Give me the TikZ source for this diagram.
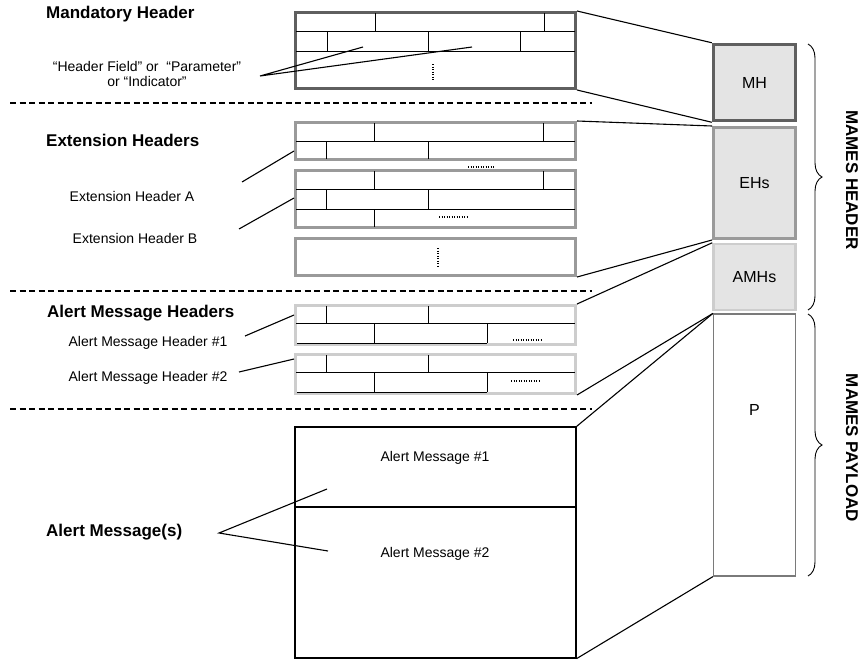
\documentclass[tikz,border=0pt]{standalone}
\usepackage{fontspec}
\setmainfont{Liberation Sans}
\usetikzlibrary{decorations.pathreplacing}
\definecolor{mhgray}{HTML}{5F5F5F}
\definecolor{ehgray}{HTML}{9A9A9A}
\definecolor{amgray}{HTML}{CDCDCD}
\definecolor{fillgray}{HTML}{E4E4E4}
\definecolor{pgray}{HTML}{7A7A7A}
\tikzset{every node/.append style={inner sep=0pt},
  lbl/.style={font=\fontsize{14}{14.5}\selectfont},
  ttl/.style={font=\bfseries\fontsize{17}{20}\selectfont,anchor=west},
  side/.style={font=\bfseries\fontsize{17}{20}\selectfont,rotate=-90},
  hbox/.style={draw=#1,line width=3pt,minimum width=280pt},
  rbox/.style={draw=#1,fill=fillgray,minimum width=82pt,font=\fontsize{16}{18}\selectfont},
  cell/.style={line width=1pt},
  dots/.style={line width=1.4pt,dash pattern=on 1.2pt off 1.3pt},
  sep/.style={line width=1.2pt,dash pattern=on 6pt off 3.5pt},
  link/.style={line width=1.1pt},
  brc/.style={decorate,decoration={brace,amplitude=14pt},line width=0.9pt}}

\begin{document}
\begin{tikzpicture}[x=1pt,y=-1pt]
  \useasboundingbox (0,0) rectangle (861,659);
  \node[hbox=mhgray,minimum height=76pt] (mhL) at (435.5,50.5) {};
  \node[hbox=ehgray,minimum height=37pt] (ehA) at (435.5,141) {};
  \node[hbox=ehgray,minimum height=57pt] (ehB) at (435.5,199) {};
  \node[hbox=ehgray,minimum height=37pt] (ehC) at (435.5,257) {};
  \node[hbox=amgray,minimum height=39pt] (amA) at (435.5,325) {};
  \node[hbox=amgray,minimum height=39pt] (amB) at (435.5,374) {};
  \node[draw,line width=1.2pt,minimum width=281pt,minimum height=231pt] (amsg) at (435.5,542.5) {};

  \draw[cell] (296,31)--(575,31) (296,51)--(575,51) (375,13)--(375,31) (544,13)--(544,31)
    (327,31)--(327,51) (428,31)--(428,51) (520,31)--(520,51);
  \draw[dots] (433,64)--(433,81);
  \draw[cell] (296,141)--(575,141) (374,123)--(374,141) (543,123)--(543,141)
    (326,141)--(326,159) (428,141)--(428,159);
  \draw[dots] (468,167)--(494,167);
  \draw[cell] (296,189)--(575,189) (296,209)--(575,209) (374,171)--(374,189) (543,171)--(543,189)
    (326,189)--(326,209) (428,189)--(428,209) (374,209)--(374,227);
  \draw[dots] (439,217)--(467,217);
  \draw[dots] (438,248)--(438,266);
  \draw[cell] (296,323)--(575,323) (326,306)--(326,323) (428,306)--(428,323)
    (374,323)--(374,343) (487,323)--(487,343) (297,343)--(487,343);
  \draw[dots] (513,340)--(541,340);
  \draw[cell] (296,372)--(575,372) (326,355)--(326,372) (428,355)--(428,372)
    (374,372)--(374,392) (487,372)--(487,392) (297,392)--(487,392);
  \draw[dots] (511,381)--(539,381);
  \draw[line width=1.2pt] (296,507)--(575,507);

  \draw[sep] (10,103)--(592,103);
  \draw[sep] (10,291)--(592,291);
  \draw[sep] (10,409)--(592,409);

  \node[ttl] (mhT) at (46,14) {Mandatory Header};
  \node[lbl,align=center] (hfT) at (147,74) {“Header Field” or\ \ “Parameter”\\or “Indicator”};
  \node[ttl] (ehT) at (46,140) {Extension Headers};
  \node[lbl] (eaT) at (132,196) {Extension Header A};
  \node[lbl] (ebT) at (135,238) {Extension Header B};
  \node[ttl] (amT) at (47,313) {Alert Message Headers};
  \node[lbl] (maT) at (148,343) {Alert Message Header \#1};
  \node[lbl] (mbT) at (148,378) {Alert Message Header \#2};
  \node[ttl] (msT) at (46,532) {Alert Message(s)};
  \node[lbl] (m1T) at (435,458) {Alert Message \#1};
  \node[lbl] (m2T) at (435,554) {Alert Message \#2};

  \coordinate (hf) at (260,76); \coordinate (hf1) at (363,47); \coordinate (hf2) at (472,47);
  \coordinate (ea) at (242,182); \coordinate (ea1) at (294,151);
  \coordinate (eb) at (239,229); \coordinate (eb1) at (294,198);
  \coordinate (ma) at (245,336); \coordinate (ma1) at (294,315);
  \coordinate (mb) at (239,372); \coordinate (mb1) at (294,359);
  \coordinate (ms) at (219,533); \coordinate (ms1) at (327,489); \coordinate (ms2) at (328,551);
  \draw[link] (hf1)--(hf)--(hf2);
  \draw[link] (ea)--(ea1);
  \draw[link] (eb)--(eb1);
  \draw[link] (ma)--(ma1);
  \draw[link] (mb)--(mb1);
  \draw[link] (ms1)--(ms)--(ms2);

  \node[rbox=pgray,fill=white,line width=1.2pt,minimum height=262pt] (pR) at (754.5,445) {};
  \node[rbox=amgray,line width=2.5pt,minimum height=66pt] (amR) at (754.5,277) {AMHs};
  \node[rbox=ehgray,line width=3pt,minimum height=111pt] (ehR) at (754.5,183) {EHs};
  \node[rbox=mhgray,line width=3.5pt,minimum height=76pt] (mhR) at (754.5,82.5) {MH};
  \node[font=\fontsize{16}{18}\selectfont] (pT) at (754.5,410) {P};

  \draw[link] (mhL.north east)--(mhR.north west);
  \draw[link] (mhL.south east)--(mhR.south west);
  \draw[link] (ehA.north east)--(ehR.north west);
  \draw[link] (ehC.south east)--(ehR.south west);
  \draw[link] (amA.north east)--(amR.north west);
  \draw[link] (amB.south east)--(pR.north west);
  \draw[link] (amsg.north east)--(pR.north west);
  \draw[link] (amsg.south east)--(pR.south west);

  \draw[brc] (808,44)--(808,310);
  \draw[brc] (808,314)--(808,576);
  \node[side] (hdT) at (852,180) {MAMES HEADER};
  \node[side] (plT) at (852,448) {MAMES PAYLOAD};
\end{tikzpicture}
\end{document}
